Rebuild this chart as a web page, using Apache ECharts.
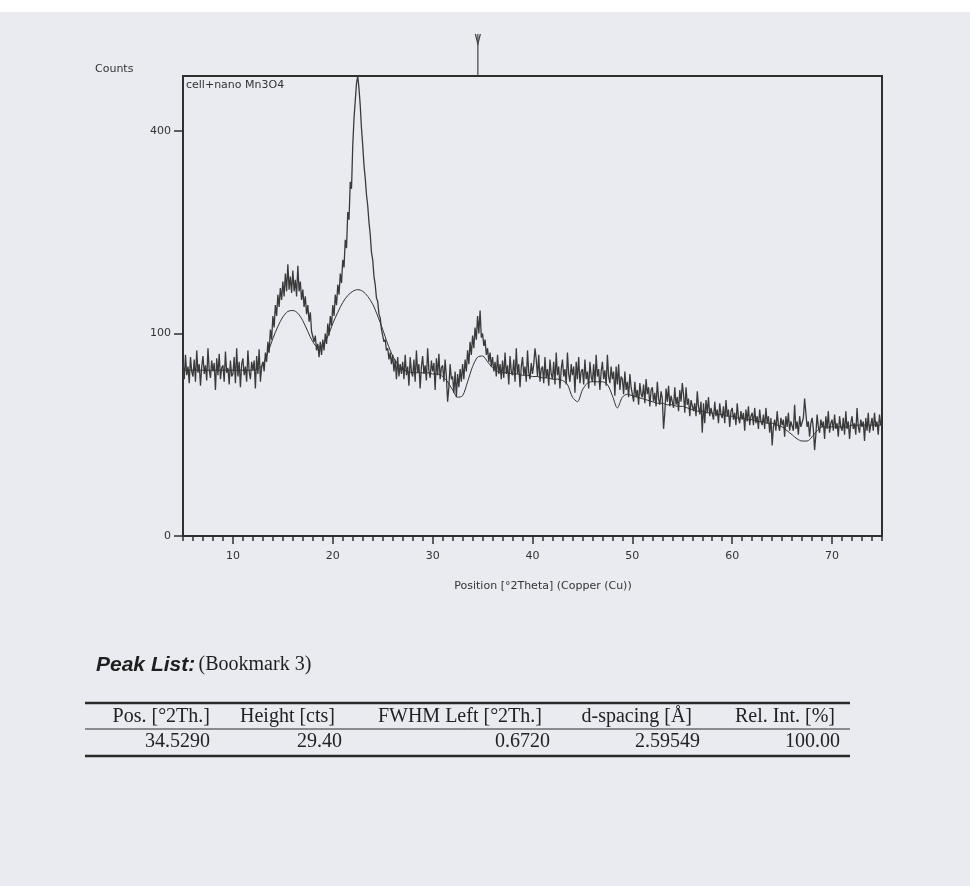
<!DOCTYPE html>
<html>
<head>
<meta charset="utf-8">
<script src="https://cdn.jsdelivr.net/npm/echarts@6/dist/echarts.min.js"></script>
<style>
  html, body { margin: 0; padding: 0; background: #e9ebf1; }
  #chart { width: 970px; height: 886px; }
</style>
</head>
<body>
<div id="chart"></div>
<script>
(function(){
  'use strict';

  /*
    scan data: counts from 5 to 75 °2Theta, step 0.125 (8 per degree)
  */
  var thetaStart = 5, thetaStep = 0.125;
  var counts = [
    74, 60, 80, 63, 70, 57, 78, 66,       // 5
    62, 76, 58, 84, 65, 72, 55, 70,       // 6
    79, 64, 71, 59, 86, 67, 61, 75,       // 7
    66, 73, 52, 77, 63, 81, 60, 69,       // 8
    71, 58, 83, 65, 69, 56, 75, 62,       // 9
    64, 78, 57, 86, 62, 74, 54, 72,       // 10
    77, 63, 70, 58, 84, 66, 60, 74,       // 11
    67, 75, 53, 79, 64, 85, 58, 70,       // 12
    74, 66, 82, 74, 92, 82, 104, 94,      // 13
    118, 106, 130, 118, 142, 128, 150, 136, // 14
    158, 140, 168, 146, 180, 148, 164, 144, // 15
    172, 146, 160, 140, 178, 146, 158, 136, // 16
    148, 128, 140, 120, 130, 112, 122, 102, // 17
    104, 92, 98, 84, 90, 78, 92, 80,      // 18
    94, 84, 100, 90, 110, 98, 118, 108,   // 19
    130, 118, 142, 130, 154, 142, 168, 156, // 20
    186, 176, 214, 202, 256, 244, 306, 294, // 21
    372, 425, 462, 500, 516, 488, 452, 405, // 22
    372, 335, 312, 284, 266, 240, 222, 196, // 23
    186, 164, 154, 138, 134, 120, 116, 104, // 24
    104, 92, 94, 84, 86, 76, 82, 72,      // 25
    80, 66, 76, 60, 78, 62, 72, 64,       // 26
    74, 60, 80, 63, 70, 55, 78, 66,       // 27
    62, 76, 58, 84, 65, 72, 53, 70,       // 28
    79, 64, 71, 59, 86, 67, 61, 75,       // 29
    66, 73, 52, 77, 63, 81, 60, 69,       // 30
    71, 58, 76, 62, 44, 54, 72, 60,       // 31
    62, 50, 66, 47, 64, 54, 68, 58,       // 32
    72, 60, 76, 66, 84, 72, 92, 80,       // 33
    98, 86, 106, 94, 118, 100, 124, 96,   // 34
    100, 88, 94, 80, 86, 74, 82, 70,      // 35
    78, 66, 74, 62, 80, 64, 72, 60,       // 36
    75, 61, 82, 64, 71, 56, 79, 66,       // 37
    63, 76, 58, 86, 64, 72, 54, 70,       // 38
    78, 63, 70, 58, 84, 65, 60, 73,       // 39
    64, 72, 86, 76, 62, 80, 58, 68,       // 40
    70, 57, 78, 61, 68, 55, 76, 64,       // 41
    60, 74, 56, 82, 63, 70, 53, 68,       // 42
    76, 62, 68, 56, 82, 64, 58, 72,       // 43
    63, 70, 50, 74, 60, 78, 57, 66,       // 44
    68, 56, 76, 60, 66, 53, 74, 62,       // 45
    58, 72, 55, 80, 62, 68, 52, 66,       // 46
    74, 60, 67, 55, 80, 62, 57, 70,       // 47
    60, 66, 48, 70, 56, 72, 52, 62,       // 48
    60, 49, 66, 52, 58, 47, 64, 54,       // 49
    54, 44, 58, 47, 52, 42, 57, 49,       // 50
    47, 56, 43, 60, 49, 54, 41, 52,       // 51
    54, 44, 50, 41, 58, 46, 42, 51,       // 52
    46, 28, 37, 53, 44, 55, 41, 48,       // 53
    49, 40, 54, 42, 47, 38, 52, 44,       // 54
    57, 49, 37, 54, 42, 46, 35, 45,       // 55
    46, 38, 43, 35, 51, 41, 36, 44,       // 56
    26, 43, 31, 45, 37, 47, 35, 40,       // 57
    41, 33, 44, 35, 39, 31, 43, 36,       // 58
    34, 41, 31, 45, 35, 39, 29, 38,       // 59
    40, 33, 37, 30, 43, 34, 31, 38,       // 60
    33, 37, 27, 39, 32, 41, 30, 35,       // 61
    37, 30, 40, 31, 35, 28, 39, 32,       // 62
    30, 36, 28, 40, 31, 35, 26, 34,       // 63
    20, 29, 33, 27, 38, 30, 27, 34,       // 64
    30, 33, 24, 35, 29, 37, 27, 32,       // 65
    33, 27, 42, 28, 32, 25, 35, 29,       // 66
    28, 34, 46, 37, 29, 32, 24, 31,       // 67
    34, 28, 18, 25, 36, 29, 26, 33,       // 68
    29, 32, 23, 35, 28, 38, 26, 31,       // 69
    33, 27, 36, 28, 31, 24, 35, 29,       // 70
    27, 34, 25, 38, 28, 32, 23, 31,       // 71
    35, 28, 31, 25, 40, 29, 26, 33,       // 72
    29, 32, 22, 34, 27, 37, 26, 30,       // 73
    34, 27, 37, 29, 32, 25, 36, 30,       // 74
    31                                    // 75
  ];

  /*
    fitted background, step 0.5
  */
  var bgStart = 5, bgStep = 0.5;
  var background = [
    67, 67, 67, 67, 67, 67, 67, 67, 67, 67, 67, 67, 67, 67, 67, 68,   // 5-12.5
    72, 82, 95, 107, 117, 123, 124, 121, 113, 102, 92, 87, 89, 97,   // 13-19.5
    110, 122, 133, 141, 146, 148, 146, 140, 131, 118, 104, 90, 79, 72, // 20-26.5
    68, 66, 65, 65, 65, 65, 64, 64, 62, 58, 52, 47, 48, 58, 70, 78,   // 27-34.5
    79, 74, 69, 66, 65, 65, 64, 64, 63, 63, 62, 62, 61, 61, 60, 60,   // 35-42.5
    59, 56, 47, 44, 52, 57, 58, 58, 58, 56, 48, 40, 47, 49, 48, 47,   // 43-50.5
    46, 45, 44, 43, 43, 42, 42, 41, 41, 40, 39, 38, 38, 37, 37, 36,   // 51-58.5
    36, 35, 35, 34, 34, 33, 33, 32, 32, 31, 31, 30, 29, 27, 25, 23,   // 59-66.5
    22, 22, 24, 27, 29, 29, 29, 29, 29, 29, 30, 30, 30, 30, 30, 30,   // 67-74.5
    30
  ];

  var xMin = 5, xMax = 75, yMax = 516;
  var xLabels = [10, 20, 30, 40, 50, 60, 70];
  var yLabels = [0, 100, 400];
  var peakPos = [34.529];

  var tableHead = ['Pos. [°2Th.]', 'Height [cts]', 'FWHM Left [°2Th.]', 'd-spacing [Å]', 'Rel. Int. [%]'];
  var tableRow  = ['34.5290', '29.40', '0.6720', '2.59549', '100.00'];
  var headRight = [210, 335, 542, 692, 835];
  var rowRight  = [210, 342, 550, 700, 840];

  /* ----------------- split ----------------- */

  var ink = '#2f2f2f';
  var sansFont = 'DejaVu Sans';

  // intensity axis is square-root scaled
  var toSqrt = function(v){ return Math.sqrt(v); };
  var scanData = counts.map(function(c, i){ return [thetaStart + i * thetaStep, toSqrt(c)]; });
  var bgData = background.map(function(c, i){ return [bgStart + i * bgStep, toSqrt(c)]; });

  var minorTicks = [];
  for (var t = Math.ceil(xMin); t <= xMax; t++) {
    xLabels.indexOf(t) === -1 && minorTicks.push(t);
  }

  var chart = echarts.init(document.getElementById('chart'), null, {renderer: 'canvas'});

  var option = {
    animation: false,
    backgroundColor: '#e9ebf1',
    grid: {
      left: 183, right: 88, top: 76, bottom: 350,
      show: true, borderColor: ink, borderWidth: 2, backgroundColor: 'transparent'
    },
    xAxis: [{
      type: 'value', min: xMin, max: xMax,
      axisLine: {show: true, lineStyle: {color: ink, width: 2}},
      axisTick: {show: true, customValues: xLabels, length: 8, lineStyle: {color: ink, width: 1.5}},
      axisLabel: {customValues: xLabels, color: '#333', fontSize: 11, fontFamily: sansFont, margin: 15},
      splitLine: {show: false}
    }, {
      type: 'value', min: xMin, max: xMax, position: 'bottom',
      axisLine: {show: false},
      axisTick: {show: true, customValues: minorTicks, length: 5, lineStyle: {color: ink, width: 1.5}},
      axisLabel: {show: false},
      splitLine: {show: false}
    }],
    yAxis: {
      type: 'value', min: 0, max: toSqrt(yMax),
      axisLine: {show: true, lineStyle: {color: ink, width: 2}},
      axisTick: {show: true, customValues: yLabels.map(toSqrt), length: 9, lineStyle: {color: ink, width: 1.5}},
      axisLabel: {
        customValues: yLabels.map(toSqrt), color: '#333', fontSize: 11, fontFamily: sansFont, margin: 12,
        formatter: function(v){ return Math.round(v * v); }
      },
      splitLine: {show: false}
    },
    series: [{
      type: 'line', data: scanData, showSymbol: false,
      lineStyle: {color: '#3a3a3a', width: 1.3}
    }, {
      type: 'line', data: bgData, showSymbol: false, smooth: 0.3,
      lineStyle: {color: '#333333', width: 1}
    }]
  };
  chart.setOption(option);

  /* ----------------- split ----------------- */

  /*
    texts, peak marker and peak table
  */
  var graphics = [
    {type: 'rect', shape: {x: 0, y: 0, width: 970, height: 12}, style: {fill: '#ffffff'}, z: -1},
    {type: 'text', x: 95, y: 69, style: {text: 'Counts', fill: '#333', font: '11px ' + sansFont, textVerticalAlign: 'middle'}},
    {type: 'text', x: 186, y: 85, style: {text: 'cell+nano Mn3O4', fill: '#333', font: '11px ' + sansFont, textVerticalAlign: 'middle'}},
    {type: 'text', x: 543, y: 586, style: {text: 'Position [°2Theta] (Copper (Cu))', fill: '#333', font: '11px ' + sansFont, textAlign: 'center', textVerticalAlign: 'middle'}},
    {type: 'text', x: 96, y: 665, style: {
      text: '{a|Peak List:} {b|(Bookmark 3)}', textVerticalAlign: 'middle',
      rich: {
        a: {font: 'italic bold 21px "Liberation Sans"', fill: '#1e1e1e'},
        b: {font: '20px "Liberation Serif"', fill: '#1e1e1e'}
      }
    }},
    {type: 'line', shape: {x1: 85, y1: 703, x2: 850, y2: 703}, style: {stroke: '#2a2a2a', lineWidth: 2.5}},
    {type: 'line', shape: {x1: 85, y1: 729, x2: 850, y2: 729}, style: {stroke: '#2a2a2a', lineWidth: 1}},
    {type: 'line', shape: {x1: 85, y1: 756, x2: 850, y2: 756}, style: {stroke: '#2a2a2a', lineWidth: 2.5}}
  ];

  tableHead.forEach(function(h, i){
    graphics.push({type: 'text', x: headRight[i], y: 717, style: {
      text: h, fill: '#222', font: '20px "Liberation Serif"', textAlign: 'right', textVerticalAlign: 'middle'}});
    graphics.push({type: 'text', x: rowRight[i], y: 742, style: {
      text: tableRow[i], fill: '#222', font: '20px "Liberation Serif"', textAlign: 'right', textVerticalAlign: 'middle'}});
  });

  peakPos.forEach(function(p){
    var px = chart.convertToPixel({xAxisIndex: 0}, p);
    graphics.push({type: 'line', shape: {x1: px, y1: 34, x2: px, y2: 76}, style: {stroke: '#444', lineWidth: 1.2}});
    graphics.push({type: 'polyline', shape: {points: [[px - 2.5, 34], [px, 44], [px + 2.5, 34]]}, style: {stroke: '#444', lineWidth: 1.2, fill: null}});
  });

  chart.setOption({graphic: graphics});
})();
</script>
</body>
</html>
